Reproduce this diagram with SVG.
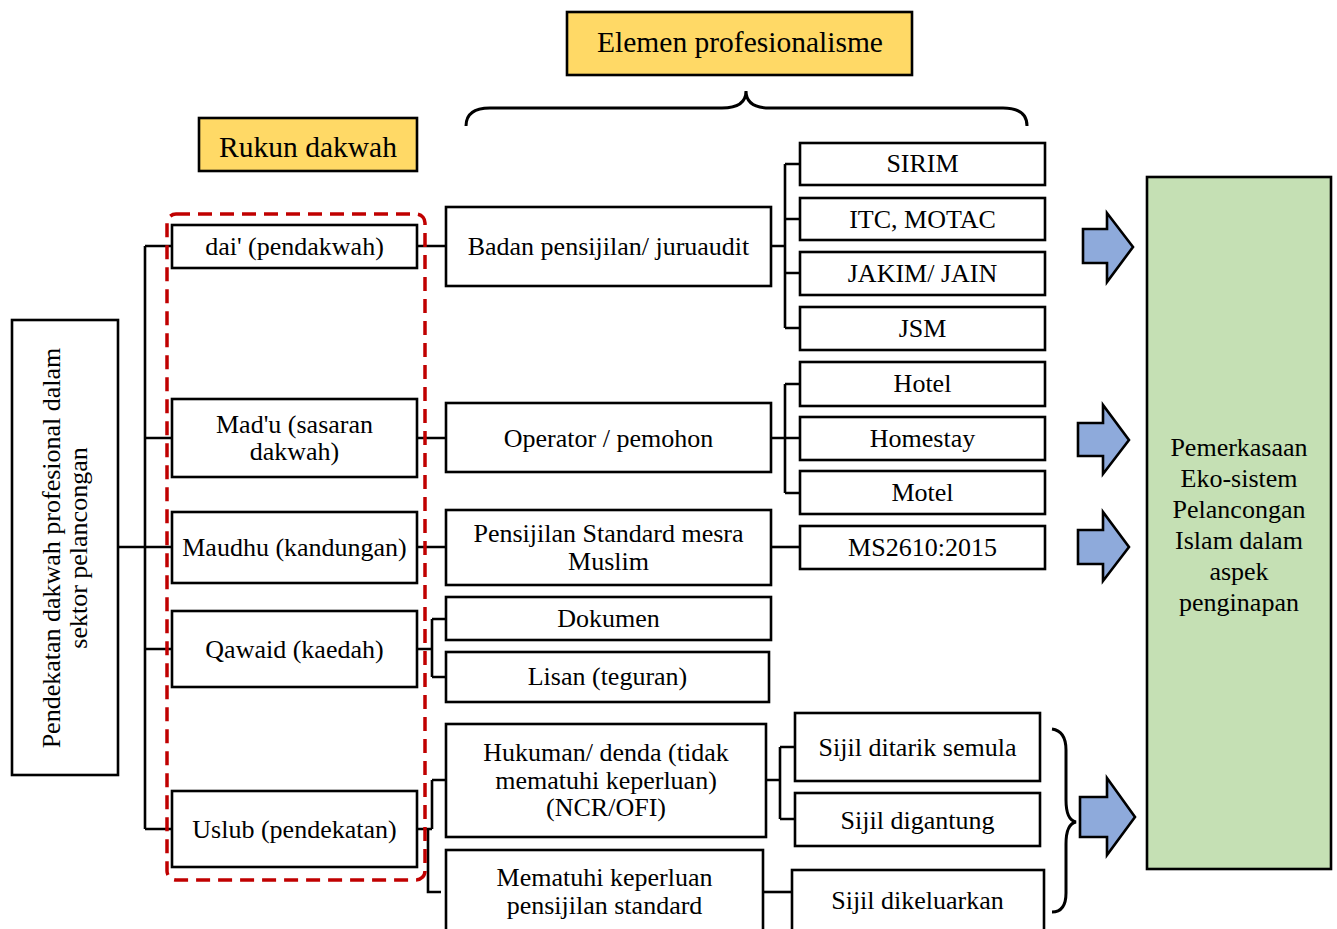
<svg xmlns="http://www.w3.org/2000/svg" width="1337" height="929" viewBox="0 0 1337 929">
<style>
.b{fill:#fff;stroke:#000;stroke-width:2.6}
.y{fill:#FFD966;stroke:#000;stroke-width:2.6}
.g{fill:#C5E0B4;stroke:#000;stroke-width:2.6}
.ar{fill:#8EAADB;stroke:#000;stroke-width:2.6;stroke-linejoin:miter}
.t{font-family:"Liberation Serif","Times New Roman",serif;font-size:26px;fill:#000;text-anchor:middle}
.h{font-size:29.5px}
.c{fill:none;stroke:#000;stroke-width:2.6}
.br{fill:none;stroke:#000;stroke-width:3}
.red{fill:none;stroke:#C00000;stroke-width:3.5;stroke-dasharray:14 8}
</style>
<rect width="1337" height="929" fill="#fff"/>
<g id="connectors" class="c">
<path d="M118,547H145M145,246V829M145,246H172M145,438H172M145,547H172M145,649H172M145,829H172"/>
<path d="M417,246H446M417,438H446M417,547H446"/>
<path d="M417,649H432M432,619V677M432,619H446M432,677H446"/>
<path d="M417,829H432M432,780V829M432,780H446M428,829V892H441"/>
<path d="M771,246H785M785,164V328M785,164H800M785,219H800M785,273H800M785,328H800"/>
<path d="M771,438H800M785,384V493M785,384H800M785,493H800"/>
<path d="M771,547H800"/>
<path d="M766,780H780M780,747V819M780,747H795M780,819H795"/>
<path d="M763,892H792"/>
</g>
<g id="brace-top"><path class="br" d="M466,126Q466,108 490,108L722,108Q746,108 746,91Q746,108 770,108L1003,108Q1027,108 1027,126"/></g>
<g id="brace-right"><path class="br" d="M1052,729Q1066,731 1066,750L1066,800Q1066,820 1076,822Q1066,824 1066,844L1066,893Q1066,912 1052,912"/></g>
<g id="elemen"><rect class="y" x="567" y="12" width="345" height="63"/><text class="t h" x="740" y="52">Elemen profesionalisme</text></g>
<g id="rukun"><rect class="y" x="199" y="118" width="218" height="53"/><text class="t h" x="308" y="157">Rukun dakwah</text></g>
<g id="pendekatan"><rect class="b" x="12" y="320" width="106" height="455"/>
<text class="t" transform="translate(60,548) rotate(-90)">Pendekatan dakwah profesional dalam</text>
<text class="t" transform="translate(87,548) rotate(-90)">sektor pelancongan</text></g>
<g id="rukun-group"><rect class="red" x="167" y="214" width="258" height="666" rx="9"/></g>
<g id="dai"><rect class="b" x="172" y="225" width="245" height="43"/><text class="t" x="294.5" y="255">dai' (pendakwah)</text></g>
<g id="madu"><rect class="b" x="172" y="399" width="245" height="78"/><text class="t" x="294.5" y="433">Mad'u (sasaran</text><text class="t" x="294.5" y="460">dakwah)</text></g>
<g id="maudhu"><rect class="b" x="172" y="512" width="245" height="71"/><text class="t" x="294.5" y="556">Maudhu (kandungan)</text></g>
<g id="qawaid"><rect class="b" x="172" y="611" width="245" height="76"/><text class="t" x="294.5" y="658">Qawaid (kaedah)</text></g>
<g id="uslub"><rect class="b" x="172" y="791" width="245" height="76"/><text class="t" x="294.5" y="838">Uslub (pendekatan)</text></g>
<g id="badan"><rect class="b" x="446" y="207" width="325" height="79"/><text class="t" x="608.5" y="255">Badan pensijilan/ juruaudit</text></g>
<g id="operator"><rect class="b" x="446" y="403" width="325" height="69"/><text class="t" x="608.5" y="447">Operator / pemohon</text></g>
<g id="pensijilan"><rect class="b" x="446" y="510" width="325" height="75"/><text class="t" x="608.5" y="542">Pensijilan Standard mesra</text><text class="t" x="608.5" y="570">Muslim</text></g>
<g id="dokumen"><rect class="b" x="446" y="597" width="325" height="43"/><text class="t" x="608.5" y="627">Dokumen</text></g>
<g id="lisan"><rect class="b" x="446" y="652" width="323" height="50"/><text class="t" x="607.5" y="685">Lisan (teguran)</text></g>
<g id="hukuman"><rect class="b" x="446" y="724" width="320" height="113"/><text class="t" x="606" y="761">Hukuman/ denda (tidak</text><text class="t" x="606" y="789">mematuhi keperluan)</text><text class="t" x="606" y="816">(NCR/OFI)</text></g>
<g id="mematuhi"><rect class="b" x="446" y="850" width="317" height="90"/><text class="t" x="604.5" y="886">Mematuhi keperluan</text><text class="t" x="604.5" y="914">pensijilan standard</text></g>
<g id="sirim"><rect class="b" x="800" y="143" width="245" height="42"/><text class="t" x="922.5" y="172">SIRIM</text></g>
<g id="itc"><rect class="b" x="800" y="198" width="245" height="42"/><text class="t" x="922.5" y="228">ITC, MOTAC</text></g>
<g id="jakim"><rect class="b" x="800" y="252" width="245" height="43"/><text class="t" x="922.5" y="282">JAKIM/ JAIN</text></g>
<g id="jsm"><rect class="b" x="800" y="307" width="245" height="43"/><text class="t" x="922.5" y="337">JSM</text></g>
<g id="hotel"><rect class="b" x="800" y="362" width="245" height="44"/><text class="t" x="922.5" y="392">Hotel</text></g>
<g id="homestay"><rect class="b" x="800" y="417" width="245" height="43"/><text class="t" x="922.5" y="447">Homestay</text></g>
<g id="motel"><rect class="b" x="800" y="471" width="245" height="43"/><text class="t" x="922.5" y="501">Motel</text></g>
<g id="ms2610"><rect class="b" x="800" y="526" width="245" height="43"/><text class="t" x="922.5" y="556">MS2610:2015</text></g>
<g id="ditarik"><rect class="b" x="795" y="713" width="245" height="68"/><text class="t" x="917.5" y="756">Sijil ditarik semula</text></g>
<g id="digantung"><rect class="b" x="795" y="793" width="245" height="53"/><text class="t" x="917.5" y="829">Sijil digantung</text></g>
<g id="dikeluarkan"><rect class="b" x="792" y="870" width="252" height="70"/><text class="t" x="917.5" y="909">Sijil dikeluarkan</text></g>
<g id="arrows">
<polygon class="ar" points="1083,229 1107,229 1107,213 1133,247 1107,282 1107,263 1083,263"/>
<polygon class="ar" points="1078,423 1103,423 1103,405 1129,440 1103,474 1103,456 1078,456"/>
<polygon class="ar" points="1078,530 1103,530 1103,512 1129,547 1103,581 1103,564 1078,564"/>
<polygon class="ar" points="1080,797 1107,797 1107,778 1135,817 1107,855 1107,837 1080,837"/>
</g>
<g id="pemerkasaan"><rect class="g" x="1147" y="177" width="184" height="692"/>
<text class="t" x="1239" y="456">Pemerkasaan</text>
<text class="t" x="1239" y="487">Eko-sistem</text>
<text class="t" x="1239" y="518">Pelancongan</text>
<text class="t" x="1239" y="549">Islam dalam</text>
<text class="t" x="1239" y="580">aspek</text>
<text class="t" x="1239" y="611">penginapan</text></g>
</svg>
